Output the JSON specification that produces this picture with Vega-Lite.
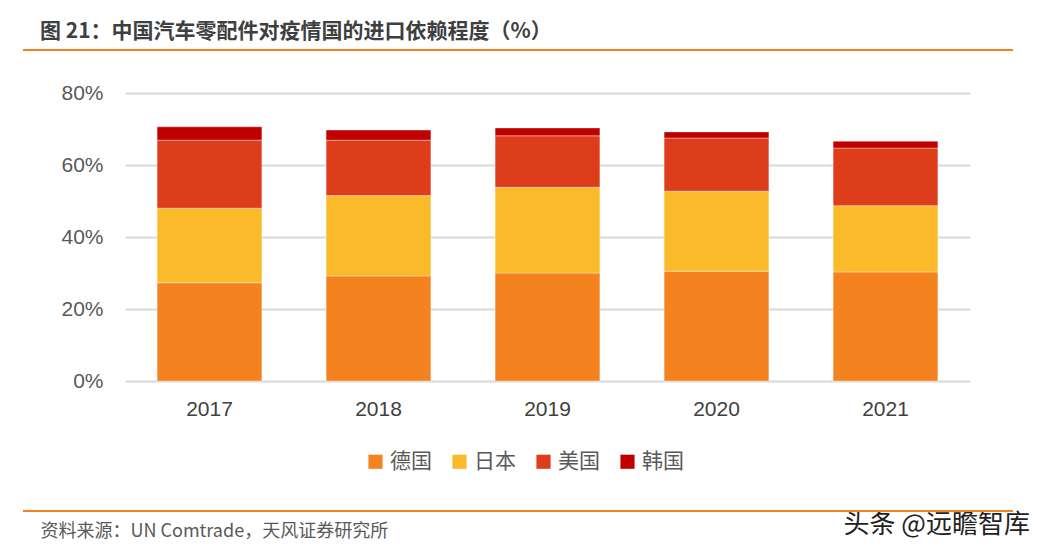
{
  "$schema": "https://vega.github.io/schema/vega-lite/v6.json",
  "width": 845,
  "height": 288,
  "autosize": {"type": "none"},
  "padding": {"left": 125, "top": 93, "right": 82, "bottom": 175},
  "background": "white",
  "config": {"view": {"stroke": null}, "font": "Noto Sans CJK SC"},
  "title": {
    "text": "图 21：中国汽车零配件对疫情国的进口依赖程度（%）",
    "anchor": "start",
    "frame": "group",
    "dx": -85,
    "offset": -14,
    "baseline": "bottom",
    "font": "Noto Sans CJK SC",
    "fontSize": 21,
    "fontWeight": "bold",
    "color": "#3F3F3F"
  },
  "data": {
    "values": [
      {"year": "2017", "country": "德国", "value": 27.3},
      {"year": "2017", "country": "日本", "value": 20.7},
      {"year": "2017", "country": "美国", "value": 18.9},
      {"year": "2017", "country": "韩国", "value": 3.7},
      {"year": "2018", "country": "德国", "value": 29.2},
      {"year": "2018", "country": "日本", "value": 22.3},
      {"year": "2018", "country": "美国", "value": 15.4},
      {"year": "2018", "country": "韩国", "value": 2.8},
      {"year": "2019", "country": "德国", "value": 30.0},
      {"year": "2019", "country": "日本", "value": 23.8},
      {"year": "2019", "country": "美国", "value": 14.3},
      {"year": "2019", "country": "韩国", "value": 2.2},
      {"year": "2020", "country": "德国", "value": 30.5},
      {"year": "2020", "country": "日本", "value": 22.2},
      {"year": "2020", "country": "美国", "value": 14.8},
      {"year": "2020", "country": "韩国", "value": 1.7},
      {"year": "2021", "country": "德国", "value": 30.3},
      {"year": "2021", "country": "日本", "value": 18.4},
      {"year": "2021", "country": "美国", "value": 16.0},
      {"year": "2021", "country": "韩国", "value": 1.9}
    ]
  },
  "layer": [
    {
      "mark": {"type": "bar", "stroke": "#ffffff", "strokeWidth": 0.6, "strokeOpacity": 0.6},
      "encoding": {
        "x": {
          "field": "year",
          "type": "nominal",
          "scale": {"paddingInner": 0.38, "paddingOuter": 0.19},
          "axis": {
            "labelAngle": 0,
            "labelFont": "Liberation Sans",
            "labelFontSize": 21,
            "labelColor": "#404040",
            "labelPadding": 17,
            "ticks": false,
            "domain": false,
            "title": "资料来源：UN Comtrade，天风证券研究所",
            "titleFont": "Noto Sans CJK SC",
            "titleFontSize": 18,
            "titleFontWeight": "normal",
            "titleColor": "#595959",
            "titleAlign": "left",
            "titleBaseline": "middle",
            "titleAnchor": "start",
            "titleX": -85,
            "titleY": 150
          }
        },
        "y": {
          "field": "value",
          "type": "quantitative",
          "stack": "zero",
          "scale": {"domain": [0, 80], "nice": false},
          "axis": {
            "values": [0, 20, 40, 60, 80],
            "format": ".0f",
            "labelExpr": "datum.label + '%'",
            "labelFont": "Liberation Sans",
            "labelFontSize": 21,
            "labelColor": "#595959",
            "labelPadding": 22,
            "ticks": false,
            "domain": false,
            "gridColor": "#D9D9D9",
            "gridWidth": 2,
            "title": "头条 @远瞻智库",
            "titleAngle": 0,
            "titleFont": "Noto Sans CJK SC",
            "titleFontSize": 26,
            "titleFontWeight": "normal",
            "titleColor": "#222222",
            "titleAlign": "left",
            "titleBaseline": "middle",
            "titleX": 718,
            "titleY": 431
          }
        },
        "color": {
          "field": "country",
          "type": "nominal",
          "sort": ["德国", "日本", "美国", "韩国"],
          "scale": {
            "domain": ["德国", "日本", "美国", "韩国"],
            "range": ["#F4821F", "#FBBA29", "#DE3D1C", "#C00000"]
          },
          "legend": {
            "orient": "none",
            "direction": "horizontal",
            "legendX": 240,
            "legendY": 358,
            "title": null,
            "symbolType": "square",
            "symbolSize": 200,
            "symbolStrokeWidth": 0,
            "labelFont": "Noto Sans CJK SC",
            "labelFontSize": 21,
            "labelColor": "#595959",
            "labelOffset": 4,
            "columnPadding": 17
          }
        },
        "order": {"field": "country", "sort": "ascending"}
      }
    },
    {
      "data": {"values": [{"a": 1}]},
      "mark": {"type": "rule", "color": "#F4821F", "strokeWidth": 2},
      "encoding": {
        "x": {"value": -102},
        "x2": {"value": 888},
        "y": {"value": -43}
      }
    },
    {
      "data": {"values": [{"a": 1}]},
      "mark": {"type": "rule", "color": "#F4821F", "strokeWidth": 2},
      "encoding": {
        "x": {"value": -102},
        "x2": {"value": 888},
        "y": {"value": 418}
      }
    }
  ]
}
